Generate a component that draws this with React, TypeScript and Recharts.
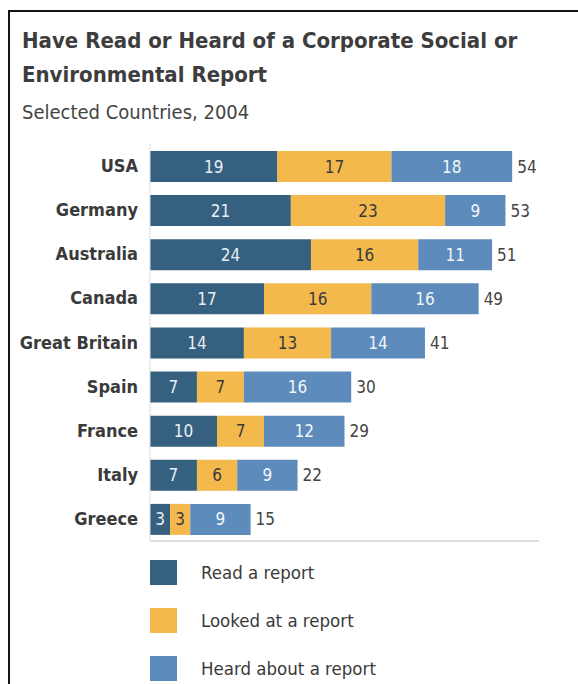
import React from "react";
import { BarChart, Bar, XAxis, YAxis, LabelList, Legend } from "recharts";

const countries = ["USA", "Germany", "Australia", "Canada", "Great Britain", "Spain", "France", "Italy", "Greece"];
const readReport = [19, 21, 24, 17, 14, 7, 10, 7, 3];
const lookedAtReport = [17, 23, 16, 16, 13, 7, 7, 6, 3];
const heardAboutReport = [18, 9, 11, 16, 14, 16, 12, 9, 9];
const totals = [54, 53, 51, 49, 41, 30, 29, 22, 15];
const seriesKeys = ["read", "looked", "heard"];
const seriesNames = ["Read a report", "Looked at a report", "Heard about a report"];
const seriesColors = ["#35607f", "#f4b94d", "#5d8bbb"];
const labelColors = ["#e9eff4", "#3a3a3a", "#f2f6fa"];

const data = countries.map((c, i) => ({
  country: c,
  read: readReport[i],
  looked: lookedAtReport[i],
  heard: heardAboutReport[i],
  total: totals[i],
}));

const FONT = '"Liberation Sans Narrow", "DejaVu Sans Condensed", "Roboto Condensed", Roboto, sans-serif';

const YTick = (props: any) => {
  const { x, y, payload } = props;
  return (
    <text x={x} y={y} dy={6} textAnchor="end" fontFamily={FONT} fontWeight={700} fontSize={18} fill="#3a3a3a">
      {payload.value}
    </text>
  );
};

const insideLabel = (color: string) => (props: any) => {
  const { x, y, width, height, value } = props;
  return (
    <text x={x + width / 2} y={y + height / 2} dy={6} textAnchor="middle" fontFamily={FONT} fontSize={17} fill={color}>
      {value}
    </text>
  );
};

const totalLabel = (props: any) => {
  const { x, y, width, height, value } = props;
  return (
    <text x={x + width + 5} y={y + height / 2} dy={6} textAnchor="start" fontFamily={FONT} fontSize={17} fill="#444">
      {value}
    </text>
  );
};

const LegendContent = () => (
  <div style={{ fontFamily: FONT }}>
    {seriesNames.map((n, i) => (
      <div key={n} style={{ display: "flex", alignItems: "center", height: 48 }}>
        <div style={{ width: 27, height: 25, background: seriesColors[i] }} />
        <div style={{ marginLeft: 24, fontSize: 18.5, color: "#3a3a3a" }}>{n}</div>
      </div>
    ))}
  </div>
);

export default function App() {
  return (
    <div style={{ position: "absolute", left: 0, top: 0, width: 578, height: 684, overflow: "hidden", background: "#fff" }}>
      <div
        style={{
          position: "absolute",
          left: 8,
          top: 10,
          width: 620,
          height: 720,
          borderLeft: "2px solid #151515",
          borderTop: "2px solid #151515",
          boxSizing: "border-box",
        }}
      />
      <div
        style={{
          position: "absolute",
          left: 22,
          top: 24,
          fontFamily: FONT,
          fontWeight: 700,
          fontSize: 22,
          lineHeight: "34px",
          color: "#3d3d3d",
          whiteSpace: "nowrap",
        }}
      >
        <div>Have Read or Heard of a Corporate Social or</div>
        <div>Environmental Report</div>
      </div>
      <div
        style={{
          position: "absolute",
          left: 22,
          top: 98,
          fontFamily: FONT,
          fontSize: 20,
          lineHeight: "28px",
          color: "#444",
          whiteSpace: "nowrap",
        }}
      >
        Selected Countries, 2004
      </div>
      <div style={{ position: "absolute", left: 0, top: 0 }}>
        <BarChart
          width={578}
          height={684}
          data={data}
          layout="vertical"
          margin={{ top: 144, right: 39, left: 0, bottom: 142 }}
          barCategoryGap={0}
          barSize={31}
        >
          <XAxis type="number" domain={[0, 58]} tick={false} tickLine={false} axisLine={{ stroke: "#d4d4d4", strokeWidth: 1.5 }} height={1} />
          <YAxis
            type="category"
            dataKey="country"
            width={150}
            tickSize={0}
            tickMargin={12}
            tickLine={false}
            axisLine={{ stroke: "#dcdcdc", strokeWidth: 1 }}
            tick={<YTick />}
            interval={0}
          />
          <Legend
            layout="horizontal"
            verticalAlign="middle"
            align="center"
            content={<LegendContent />}
            wrapperStyle={{ position: "absolute", left: 150, top: 548, width: 300 }}
          />
          {seriesKeys.map((k, i) => (
            <Bar key={k} dataKey={k} name={seriesNames[i]} stackId="a" fill={seriesColors[i]} isAnimationActive={false}>
              <LabelList dataKey={k} content={insideLabel(labelColors[i])} />
              {i === 2 ? <LabelList dataKey="total" content={totalLabel} /> : null}
            </Bar>
          ))}
        </BarChart>
      </div>
    </div>
  );
}
